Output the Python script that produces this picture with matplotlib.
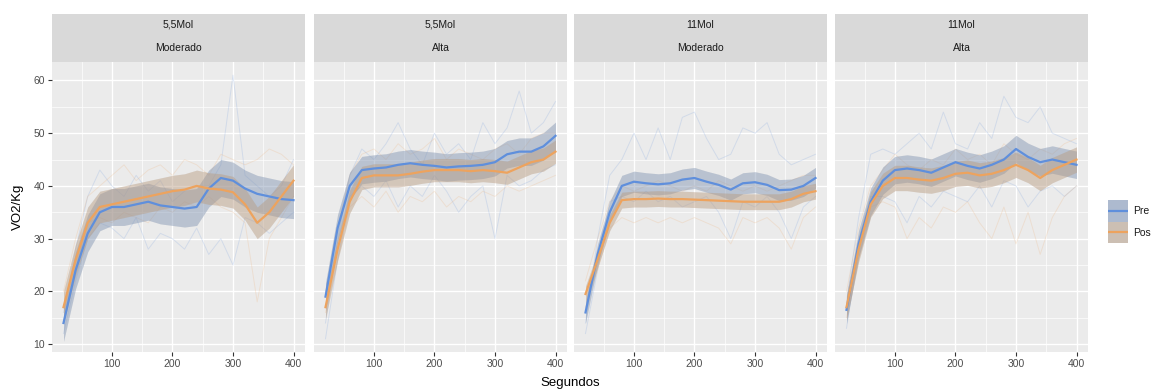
import matplotlib
matplotlib.use("Agg")
import matplotlib.pyplot as plt
from matplotlib.patches import Rectangle
from matplotlib.ticker import MultipleLocator
import numpy as np

plt.rcParams["font.family"] = ["Liberation Sans", "DejaVu Sans"]

# ── datos ──────────────────────────────
segundos = [20, 40, 60, 80, 100, 120, 140, 160, 180, 200,
            220, 240, 260, 280, 300, 320, 340, 360, 380, 400]
paneles = [("5,5Mol", "Moderado"), ("5,5Mol", "Alta"),
           ("11Mol", "Moderado"), ("11Mol", "Alta")]
grupos = ["Pre", "Pos"]

# media por panel
pre_media = [
    [14, 24, 31, 35, 36, 36, 36.5, 37, 36.3, 36, 35.7, 36, 39.5, 41.5, 41, 39.5, 38.5, 38, 37.5, 37.3],
    [19, 32, 40, 43, 43.3, 43.5, 44, 44.3, 44, 43.8, 43.5, 43.7, 43.8, 44, 44.5, 46, 46.5, 46.5, 47.5, 49.5],
    [16, 27, 35, 40, 40.8, 40.5, 40.3, 40.5, 41.2, 41.5, 40.8, 40.2, 39.3, 40.5, 40.7, 40.2, 39.2, 39.3, 40, 41.5],
    [16.5, 29, 37, 41, 43, 43.3, 43, 42.5, 43.5, 44.5, 43.8, 43.3, 44, 45, 47, 45.5, 44.5, 45, 44.5, 44],
]
pos_media = [
    [17, 26, 33, 36, 36.5, 37, 37.5, 38, 38.5, 39, 39.3, 40, 39.5, 39.3, 38.8, 36.5, 33, 35, 38, 41],
    [17, 28, 37, 41.5, 42, 42, 42, 42.3, 42.7, 43, 43, 43, 42.8, 43, 42.8, 42.5, 43.5, 44.5, 45, 46.5],
    [19.5, 26, 33, 37.3, 37.5, 37.5, 37.6, 37.5, 37.5, 37.4, 37.3, 37.2, 37.1, 37, 37, 37, 37, 37.5, 38.5, 39],
    [17, 28, 36.5, 40, 41.5, 41.5, 41.2, 41, 41.5, 42.3, 42.5, 42, 42.3, 43, 44, 43, 41.5, 43, 44, 45],
]
# semi-ancho de la banda
pre_banda = [3.5, 2.6, 2.0, 2.6]
pos_banda = [3.0, 2.2, 1.5, 2.4]

# sujetos individuales (dos por grupo y panel)
pre_suj_a = [
    [16, 28, 38, 43, 40, 38, 42, 39, 41, 37, 39, 40, 40, 44, 61, 42, 40, 38, 40, 45],
    [14, 30, 42, 47, 45, 48, 52, 47, 44, 50, 46, 48, 45, 52, 48, 51, 58, 50, 52, 56],
    [14, 30, 42, 45, 50, 45, 51, 45, 53, 54, 49, 45, 46, 51, 50, 52, 46, 44, 45, 46],
    [18, 34, 46, 47, 46, 48, 50, 47, 54, 48, 47, 52, 49, 57, 53, 52, 55, 50, 49, 48],
]
pre_suj_b = [
    [12, 22, 30, 33, 32, 30, 34, 28, 31, 30, 28, 32, 27, 30, 25, 34, 33, 31, 33, 35],
    [11, 26, 38, 40, 38, 41, 36, 40, 38, 42, 39, 35, 38, 40, 30, 42, 40, 41, 43, 44],
    [12, 24, 37, 38, 37, 39, 37, 38, 36, 37, 38, 35, 30, 37, 36, 38, 35, 30, 36, 38],
    [13, 28, 38, 38, 37, 33, 38, 36, 39, 38, 37, 40, 36, 41, 40, 36, 39, 40, 38, 40],
]
pos_suj_a = [
    [20, 30, 38, 40, 42, 44, 41, 43, 44, 42, 45, 44, 42, 46, 45, 44, 45, 47, 46, 44],
    [20, 32, 42, 46, 47, 45, 48, 46, 47, 49, 45, 47, 46, 45, 47, 48, 46, 49, 50, 50],
    [22, 30, 37, 40, 39, 40, 41, 40, 39, 40, 39, 41, 40, 39, 40, 39, 40, 41, 42, 42],
    [20, 32, 40, 43, 46, 44, 43, 45, 44, 47, 45, 46, 44, 48, 46, 45, 47, 46, 48, 49],
]
pos_suj_b = [
    [14, 24, 33, 34, 33, 35, 34, 33, 36, 35, 37, 36, 38, 36, 35, 33, 18, 30, 34, 38],
    [16, 26, 36, 38, 36, 39, 35, 38, 37, 39, 36, 38, 37, 39, 38, 40, 39, 40, 41, 42],
    [17, 24, 32, 34, 33, 34, 33, 34, 33, 34, 33, 32, 29, 34, 33, 34, 32, 28, 34, 36],
    [15, 26, 36, 37, 36, 30, 34, 32, 36, 35, 37, 33, 30, 36, 29, 35, 27, 34, 38, 40],
]

COL_PRE = "#5f8fdc"
COL_POS = "#eda35e"
W, H = 1164, 392

fig = plt.figure(figsize=(W / 100, H / 100), dpi=100)
fig.patch.set_facecolor("white")

lefts = [52, 314, 574, 835]
pw = 253
x = np.array(segundos)

for i, left in enumerate(lefts):
    ax = fig.add_axes([left / W, 1 - 352 / H, pw / W, 290 / H])
    ax.set_facecolor("#ebebeb")
    for s in ax.spines.values():
        s.set_visible(False)
    ax.set_xlim(1, 419)
    ax.set_ylim(8.5, 63.5)
    ax.xaxis.set_major_locator(MultipleLocator(100))
    ax.xaxis.set_minor_locator(MultipleLocator(50))
    ax.yaxis.set_major_locator(MultipleLocator(10))
    ax.yaxis.set_minor_locator(MultipleLocator(5))
    ax.grid(which="major", color="white", lw=1.0)
    ax.grid(which="minor", color="white", lw=0.5)
    ax.set_axisbelow(True)
    ax.tick_params(which="major", length=3, width=0.8, color="#333333",
                   labelsize=7.5, labelcolor="#4d4d4d", pad=2)
    ax.tick_params(which="minor", length=0)
    if i > 0:
        ax.tick_params(axis="y", which="both", left=False, labelleft=False)

    # sujetos
    for suj, col in ((pre_suj_a, COL_PRE), (pre_suj_b, COL_PRE),
                     (pos_suj_a, COL_POS), (pos_suj_b, COL_POS)):
        ax.plot(x, suj[i], color=col, lw=0.7, alpha=0.18, zorder=2)

    # bandas y medias
    for media, banda, col in ((pre_media, pre_banda, COL_PRE),
                              (pos_media, pos_banda, COL_POS)):
        m = np.array(media[i])
        ax.fill_between(x, m - banda[i], m + banda[i], color="#999999",
                        alpha=0.35, lw=0, zorder=3)
        ax.fill_between(x, m - banda[i], m + banda[i], color=col,
                        alpha=0.18, lw=0, zorder=3)
    for media, col in ((pre_media, COL_PRE), (pos_media, COL_POS)):
        ax.plot(x, media[i], color=col, lw=1.6, zorder=4)

    # strip
    sax = fig.add_axes([left / W, 1 - 62 / H, pw / W, 48 / H])
    sax.set_facecolor("#d9d9d9")
    sax.set_xticks([]); sax.set_yticks([])
    for s in sax.spines.values():
        s.set_visible(False)
    sax.text(0.5, 0.78, paneles[i][0], ha="center", va="center",
             fontsize=7.5, color="#1a1a1a", transform=sax.transAxes)
    sax.text(0.5, 0.30, paneles[i][1], ha="center", va="center",
             fontsize=7.5, color="#1a1a1a", transform=sax.transAxes)

    if i == 0:
        ax.set_ylabel("VO2/Kg", fontsize=9.5, labelpad=7)

fig.text(570 / W, 1 - 383 / H, "Segundos", ha="center", va="center", fontsize=9.5)

# leyenda (claves tipo ggplot)
lax = fig.add_axes([1108 / W, 1 - 243 / H, 20 / W, 43 / H])
lax.set_xlim(0, 1); lax.set_ylim(0, 2)
lax.axis("off")
for k, (g, col) in enumerate(zip(grupos, (COL_PRE, COL_POS))):
    y0 = 1 - k
    lax.add_patch(Rectangle((0, y0), 1, 1, facecolor="#c4c7cc", edgecolor="none"))
    lax.add_patch(Rectangle((0, y0), 1, 1, facecolor=col, alpha=0.22, edgecolor="none"))
    lax.plot([0, 1], [y0 + 0.5, y0 + 0.5], color=col, lw=1.6)
    fig.text(1133 / W, 1 - (211 + 22 * k) / H, g, ha="left", va="center",
             fontsize=7.5, color="#1a1a1a")

fig.savefig("out.png", dpi=100)
